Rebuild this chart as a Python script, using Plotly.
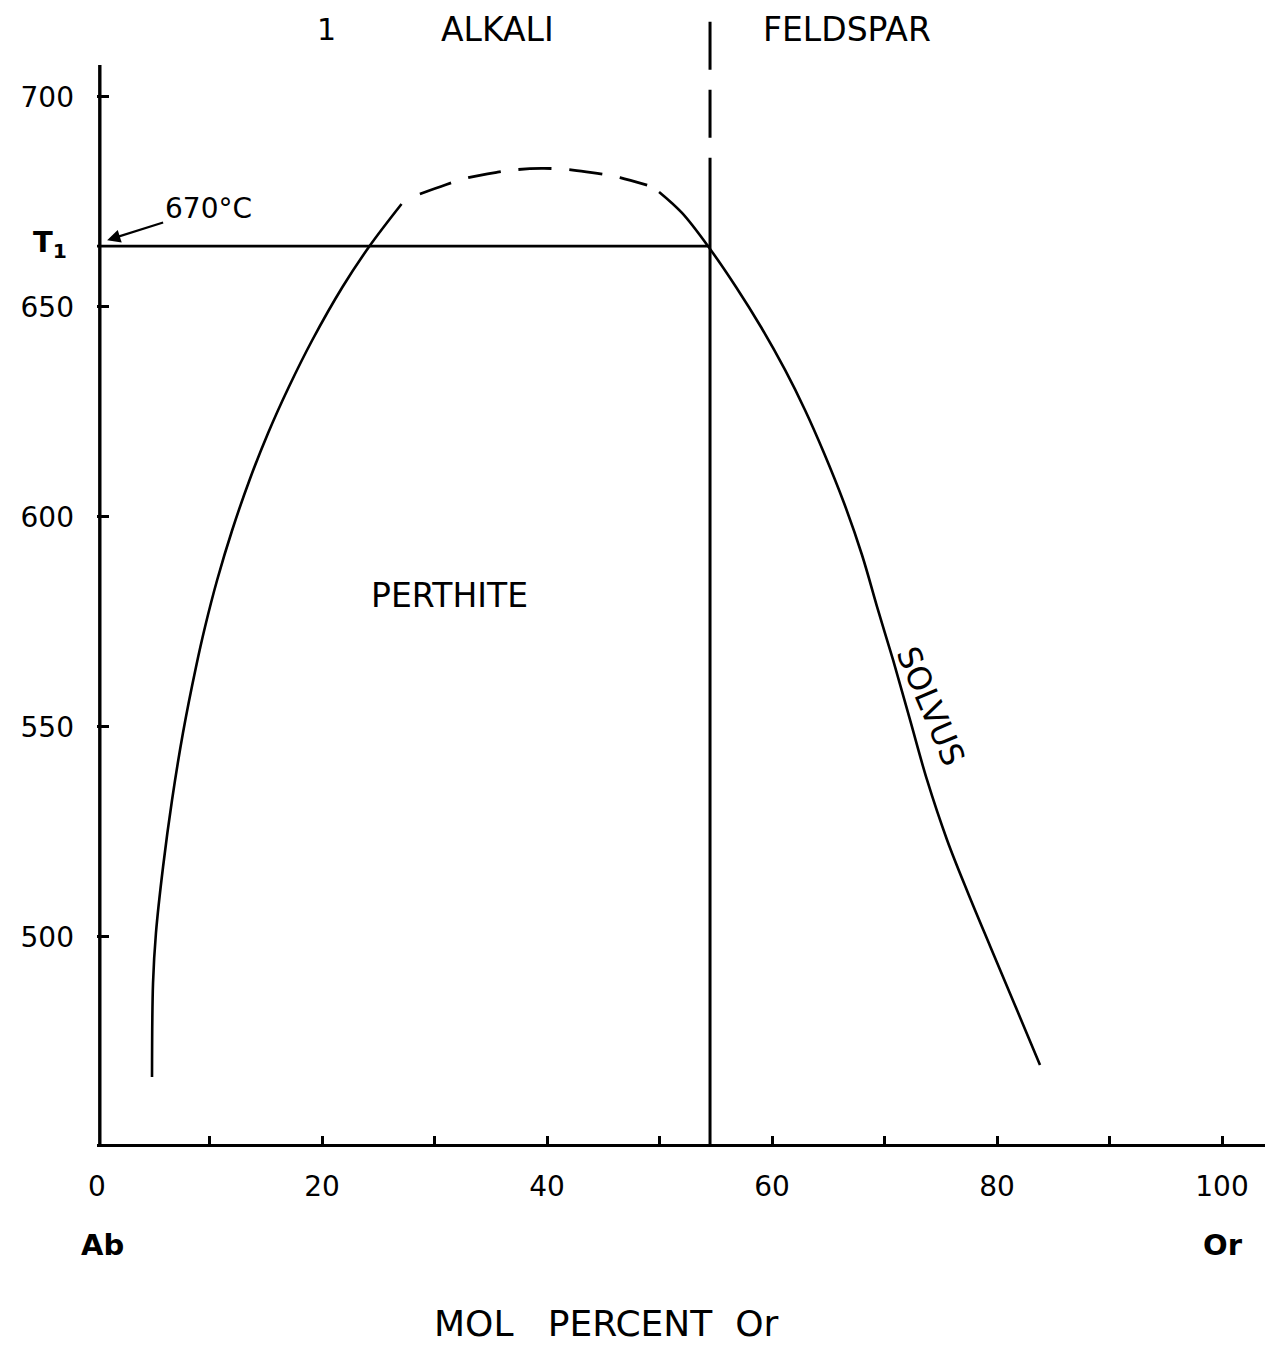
import plotly.graph_objects as go

# ---- data ----
left_x = [4.89, 4.98, 5.24, 5.87, 6.67, 7.64, 8.80, 9.60, 10.68, 12.02, 13.56, 15.21, 17.05, 19.14, 21.82, 24.23, 27.07]
left_y = [466.67, 489.05, 500.95, 516.67, 532.62, 548.57, 564.29, 573.81, 585.0, 596.9, 608.81, 620.0, 630.95, 642.14, 654.76, 664.52, 674.52]

dash_x = [28.7, 31.0, 33.0, 35.6, 37.3, 39.5, 41.0, 42.3, 44.0, 45.4, 46.5, 48.9]
dash_y = [676.9, 679.1, 680.8, 682.1, 682.7, 683.0, 682.9, 682.6, 682.0, 681.4, 680.8, 679.0]

right_x = [49.96, 52.0, 54.49, 56.8, 59.02, 61.16, 62.93, 64.62, 66.4, 68.0, 69.42, 70.76, 72.27, 73.78, 75.56, 77.42, 79.38, 81.51, 83.82]
right_y = [677.38, 672.38, 663.81, 654.76, 645.24, 635.0, 625.48, 615.24, 603.33, 590.95, 577.86, 565.95, 551.67, 537.38, 523.1, 510.48, 497.86, 484.29, 469.52]

T1 = 664.5          # isotherm temperature (drawn)
X_COMP = 54.49      # bulk composition (mol % Or)

x_major = [0, 20, 40, 60, 80, 100]
x_major_text = ["0", "20", "40", "60", "80", "100"]
x_minor = [10, 30, 50, 70, 90]
y_tickvals = [500, 550, 600, 650, 700]
y_ticktext = ["500", "550", "600", "650", "700"]

X_RANGE = [0, 103.82]
Y_RANGE = [450.71, 719.52]
Y_AXIS_TOP = 707.6
V_SOLID_TOP = 685.0
V_DASH_TOP = 717.9

FONT = "DejaVu Sans"
BLACK = "#000000"

fig = go.Figure()

curve_line = dict(color=BLACK, width=2.6, shape="spline", smoothing=1.0)

# solvus curve
fig.add_trace(go.Scatter(x=left_x, y=left_y, mode="lines", line=curve_line,
                         hoverinfo="skip", showlegend=False))
fig.add_trace(go.Scatter(x=dash_x, y=dash_y, mode="lines",
                         line=dict(curve_line, dash="33px,18px", width=2.8),
                         hoverinfo="skip", showlegend=False))
fig.add_trace(go.Scatter(x=right_x, y=right_y, mode="lines", line=curve_line,
                         hoverinfo="skip", showlegend=False))

# T1 isotherm
fig.add_trace(go.Scatter(x=[0, X_COMP], y=[T1, T1], mode="lines", line=dict(color=BLACK, width=2.6),
                         hoverinfo="skip", showlegend=False))
# vertical composition line: solid and dashed parts
fig.add_trace(go.Scatter(x=[X_COMP, X_COMP], y=[Y_RANGE[0], V_SOLID_TOP], mode="lines",
                         line=dict(color=BLACK, width=3), hoverinfo="skip", showlegend=False))
fig.add_trace(go.Scatter(x=[X_COMP, X_COMP], y=[V_DASH_TOP, V_SOLID_TOP], mode="lines",
                         line=dict(color=BLACK, width=3, dash="48px,20px"), hoverinfo="skip", showlegend=False))
# y axis line (ends below the top of the plotting area)
fig.add_trace(go.Scatter(x=[0.25, 0.25], y=[Y_RANGE[0], Y_AXIS_TOP], mode="lines",
                         line=dict(color=BLACK, width=3.4), hoverinfo="skip", showlegend=False))

annotations = [
    dict(x=20.44, y=716, text="1", font=dict(size=30)),
    dict(x=35.56, y=716, text="ALKALI", font=dict(size=33)),
    dict(x=66.67, y=716, text="FELDSPAR", font=dict(size=33)),
    dict(x=31.3, y=581.2, text="PERTHITE", font=dict(size=33)),
    dict(x=74.1, y=555.0, text="SOLVUS", textangle=67, font=dict(size=32)),
    dict(x=-0.0402, xref="paper", xanchor="center", y=T1 + 0.5, text="<b>T<sub>1</sub></b>", font=dict(size=29)),
    dict(x=0.53, y=-0.0895, yref="paper", yanchor="middle", text="<b>Ab</b>", font=dict(size=29)),
    dict(x=100.1, y=-0.0895, yref="paper", yanchor="middle", text="<b>Or</b>", font=dict(size=29)),
    dict(x=45.2, y=-0.1789, yref="paper", yanchor="bottom",
         text="MOL\u00a0\u00a0\u00a0PERCENT\u00a0\u00a0Or", font=dict(size=36)),
]
for a in annotations:
    a.setdefault("xref", "x")
    a.setdefault("yref", "y")
    a.setdefault("showarrow", False)
    a["font"] = dict(family=FONT, color=BLACK, **a["font"])
    fig.add_annotation(**a)

# "670°C" label with its arrow pointing at the y axis
fig.add_annotation(x=0.9, y=665.9, xref="x", yref="y", text="670°C",
                   font=dict(family=FONT, size=28, color=BLACK),
                   showarrow=True, ax=101, ay=-32, arrowhead=2, arrowsize=1.2,
                   arrowwidth=2.2, arrowcolor=BLACK, standoff=0)

fig.update_layout(
    width=1272, height=1349,
    margin=dict(l=97, r=7, t=15, b=205),
    paper_bgcolor="white", plot_bgcolor="white",
    font=dict(family=FONT, color=BLACK),
    showlegend=False,
    xaxis=dict(range=X_RANGE, showgrid=False, zeroline=False, showline=True, linewidth=3, linecolor=BLACK,
               tickmode="array", tickvals=x_major, ticktext=x_major_text,
               ticks="inside", ticklen=8, tickwidth=2.5, tickcolor=BLACK,
               minor=dict(tickmode="array", tickvals=x_minor, ticks="inside", ticklen=8,
                          tickwidth=2.5, tickcolor=BLACK, showgrid=False),
               tickfont=dict(family=FONT, size=28, color=BLACK), ticklabelstandoff=15),
    yaxis=dict(range=Y_RANGE, showgrid=False, zeroline=False, showline=False,
               tickmode="array", tickvals=y_tickvals, ticktext=y_ticktext,
               ticks="inside", ticklen=12, tickwidth=2.5, tickcolor=BLACK,
               tickfont=dict(family=FONT, size=28, color=BLACK), ticklabelstandoff=22),
)

fig.write_html("out.html")
